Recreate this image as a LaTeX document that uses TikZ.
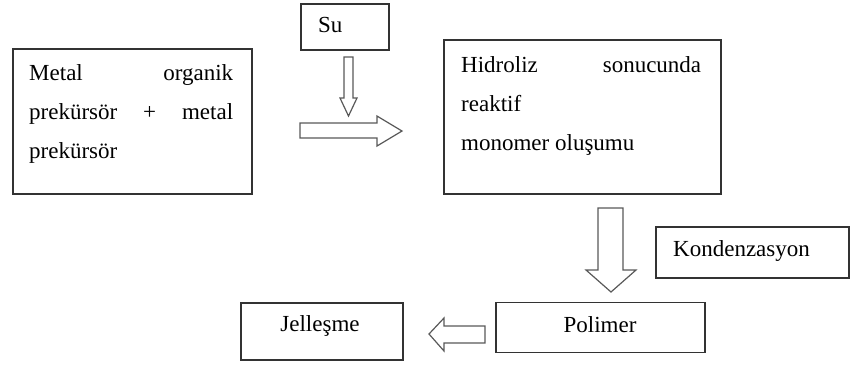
\documentclass[tikz,border=0pt]{standalone}
\usepackage{fontspec}
\setmainfont{Liberation Serif}
\begin{document}
\begin{tikzpicture}[x=1pt,y=-1pt,
  box/.style={draw=black!80,line width=1.3pt,minimum width=0pt,minimum height=0pt,inner sep=0pt},
  txt/.style={inner sep=0pt,font=\fontsize{23}{39}\selectfont},
  blockarrow/.style={draw=black!65,line width=1.2pt,fill=white,line join=miter}]
\useasboundingbox (0,0) rectangle (851,365);
% boxes
\node[box,minimum width=239pt,minimum height=145pt] (metal) at (132.5,121.5) {};
\node[box,minimum width=88pt,minimum height=46pt] (su) at (345,27) {};
\node[box,minimum width=277pt,minimum height=154pt] (hid) at (582.5,117) {};
\node[box,minimum width=193pt,minimum height=51pt] (kond) at (752.5,252.5) {};
\node[box,minimum width=209pt,minimum height=50pt] (pol) at (600.5,327.5) {};
\node[box,minimum width=162pt,minimum height=57pt] (jel) at (322,331.5) {};
% texts
\node[txt,anchor=base west,text width=204pt,align=justify] (metaltxt) at (29,80)
  {Metal\hfill organik\\ prekürsör\hfill+\hfill metal\\ prekürsör};
\node[txt,anchor=base west] (sutxt) at (318,32) {Su};
\node[txt,anchor=base west,text width=240pt,align=justify] (hidtxt) at (461,72)
  {Hidroliz\hfill sonucunda\\ reaktif\\ monomer oluşumu};
\node[txt,anchor=base west] (kondtxt) at (673,256) {Kondenzasyon};
\node[txt,anchor=base] (poltxt) at (600,332) {Polimer};
\node[txt,anchor=base] (jeltxt) at (320,331) {Jelleşme};
% block arrows
\draw[blockarrow] (300,123) -- (377,123) -- (377,116) -- (402,131) -- (377,146) -- (377,138) -- (300,138) -- cycle;
\draw[blockarrow] (344,57) -- (353,57) -- (353,98) -- (357,98) -- (348.5,116) -- (340,98) -- (344,98) -- cycle;
\draw[blockarrow] (598,208) -- (623,208) -- (623,270) -- (636,270) -- (611,292) -- (586,270) -- (598,270) -- cycle;
\draw[blockarrow] (485,326) -- (444,326) -- (444,318) -- (429,334) -- (444,351) -- (444,343) -- (485,343) -- cycle;
\end{tikzpicture}
\end{document}
